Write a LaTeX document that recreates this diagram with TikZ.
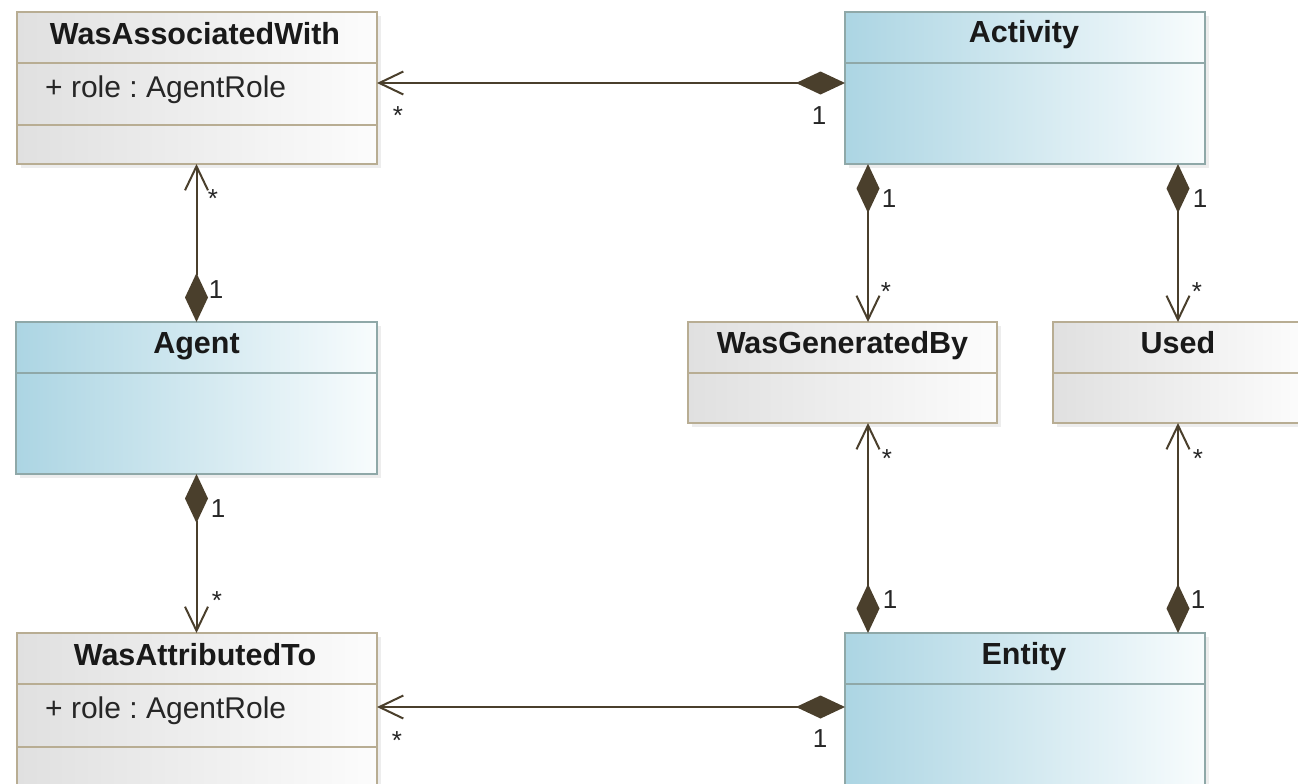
\documentclass[tikz,border=0pt]{standalone}
\usepackage{fontspec}
\setmainfont{Liberation Sans}
\usetikzlibrary{arrows.meta,calc,shadows}
\definecolor{blueL}{HTML}{ACD5E3}
\definecolor{blueR}{HTML}{F8FCFD}
\definecolor{grayL}{HTML}{E0E0E0}
\definecolor{grayR}{HTML}{FCFCFC}
\definecolor{tanB}{HTML}{B8AD93}
\definecolor{tealB}{HTML}{8FA8A8}
\definecolor{conn}{HTML}{4A3F2C}
\frenchspacing
\begin{document}
\begin{tikzpicture}[x=1pt,y=1pt,
  cls/.style={rectangle, inner sep=0pt, outer sep=0pt, anchor=north west, line width=1.5pt,
    drop shadow={shadow xshift=4pt,shadow yshift=-4pt,fill=black,opacity=0.07}},
  graycls/.style={cls, draw=tanB, left color=grayL, right color=grayR},
  bluecls/.style={cls, draw=tealB, left color=blueL, right color=blueR},
  gdiv/.style={draw=tanB, line width=1.5pt},
  bdiv/.style={draw=tealB, line width=1.5pt},
  ttl/.style={anchor=base, inner sep=0pt, font=\fontsize{30.5}{34}\selectfont\bfseries, text=black!90},
  attr/.style={anchor=base west, inner sep=0pt, font=\fontsize{30}{34}\selectfont, text=black!85},
  mult/.style={anchor=base, inner sep=0pt, font=\fontsize{26}{30}\selectfont, text=black!85},
  comp/.style={draw=conn, line width=2pt,
    {Diamond[length=49pt,width=23pt]}-{Straight Barb[length=24pt,width=23pt,line width=2pt]}}
]
\useasboundingbox (0,0) rectangle (1298,-784);
\clip (0,0) rectangle (1298,-784);
\fill[white] (0,0) rectangle (1298,-784);

% classes
\node[graycls, minimum width=360pt, minimum height=152pt] (waw) at (17,-12) {};
\node[bluecls, minimum width=360pt, minimum height=152pt] (act) at (845,-12) {};
\node[bluecls, minimum width=361pt, minimum height=152pt] (agent) at (16,-322) {};
\node[graycls, minimum width=309pt, minimum height=101pt] (wgb) at (688,-322) {};
\node[graycls, minimum width=250pt, minimum height=101pt] (used) at (1053,-322) {};
\node[graycls, minimum width=360pt, minimum height=170pt] (wat) at (17,-633) {};
\node[bluecls, minimum width=360pt, minimum height=170pt] (ent) at (845,-633) {};

% dividers
\draw[gdiv] ($(waw.north west)+(0,-51)$) -- ($(waw.north east)+(0,-51)$);
\draw[gdiv] ($(waw.north west)+(0,-113)$) -- ($(waw.north east)+(0,-113)$);
\draw[bdiv] ($(act.north west)+(0,-51)$) -- ($(act.north east)+(0,-51)$);
\draw[bdiv] ($(agent.north west)+(0,-51)$) -- ($(agent.north east)+(0,-51)$);
\draw[gdiv] ($(wgb.north west)+(0,-51)$) -- ($(wgb.north east)+(0,-51)$);
\draw[gdiv] ($(used.north west)+(0,-51)$) -- ($(used.north east)+(0,-51)$);
\draw[gdiv] ($(wat.north west)+(0,-51)$) -- ($(wat.north east)+(0,-51)$);
\draw[gdiv] ($(wat.north west)+(0,-114)$) -- ($(wat.north east)+(0,-114)$);
\draw[bdiv] ($(ent.north west)+(0,-51)$) -- ($(ent.north east)+(0,-51)$);

% titles and attributes
\node[ttl] (wawT) at ($(waw.north)+(-2,-33)$) {WasAssociatedWith};
\node[attr] (wawA) at ($(waw.north west)+(28,-85)$) {+ role : AgentRole};
\node[ttl] (actT) at ($(act.north)+(-1,-31)$) {Activity};
\node[ttl] (agentT) at ($(agent.north)+(0,-31)$) {Agent};
\node[ttl] (wgbT) at ($(wgb.north)+(0,-31)$) {WasGeneratedBy};
\node[ttl] (usedT) at ($(used.north)+(0,-31)$) {Used};
\node[ttl] (watT) at ($(wat.north)+(-2,-32)$) {WasAttributedTo};
\node[attr] (watA) at ($(wat.north west)+(28,-85)$) {+ role : AgentRole};
\node[ttl] (entT) at ($(ent.north)+(-1,-31)$) {Entity};

% connection points
\coordinate (pAct) at ($(act.north west)+(0,-71)$);
\coordinate (pEnt) at ($(ent.north west)+(0,-74)$);
\coordinate (pGen) at ($(act.south west)+(23,0)$);

% connectors
\draw[comp] (pAct) -- (pAct -| waw.east);
\draw[comp] (agent.north) -- (agent.north |- waw.south);
\draw[comp] (agent.south) -- (agent.south |- wat.north);
\draw[comp] (pGen) -- (pGen |- wgb.north);
\draw[comp] (act.south -| used.north) -- (used.north);
\draw[comp] (ent.north -| pGen) -- (wgb.south -| pGen);
\draw[comp] (ent.north -| used.south) -- (used.south);
\draw[comp] (pEnt) -- (pEnt -| wat.east);

% multiplicities
\node[mult] (m1) at (819,-124) {1};
\node[mult] (s1) at (398,-124) {*};
\node[mult] (s2) at (213,-207) {*};
\node[mult] (m2) at (216,-298) {1};
\node[mult] (m3) at (218,-517) {1};
\node[mult] (s3) at (217,-609) {*};
\node[mult] (m4) at (889,-207) {1};
\node[mult] (s4) at (886,-300) {*};
\node[mult] (m5) at (1200,-207) {1};
\node[mult] (s5) at (1197,-300) {*};
\node[mult] (s6) at (887,-467) {*};
\node[mult] (m6) at (890,-608) {1};
\node[mult] (s7) at (1198,-467) {*};
\node[mult] (m7) at (1198,-608) {1};
\node[mult] (s8) at (397,-749) {*};
\node[mult] (m8) at (820,-747) {1};
\end{tikzpicture}
\end{document}
